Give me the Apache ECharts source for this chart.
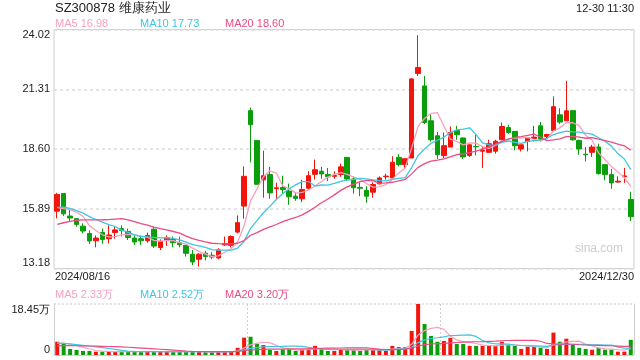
<!DOCTYPE html>
<html><head><meta charset="utf-8">
<script src="https://cdn.jsdelivr.net/npm/echarts@6/dist/echarts.min.js"></script>
<style>html,body{margin:0;padding:0;background:#fff}#c{width:640px;height:360px}</style>
</head><body><div id="c"></div>
<script>
const stockTitle = 'SZ300878 维康药业';
const timeText = '12-30 11:30';
const dates = [
 '2024/08/16','2024/08/19','2024/08/20','2024/08/21','2024/08/22','2024/08/23','2024/08/26','2024/08/27','2024/08/28','2024/08/29','2024/08/30',
 '2024/09/02','2024/09/03','2024/09/04','2024/09/05','2024/09/06','2024/09/09','2024/09/10','2024/09/11','2024/09/12','2024/09/13',
 '2024/09/18','2024/09/19','2024/09/20','2024/09/23','2024/09/24','2024/09/25','2024/09/26','2024/09/27','2024/09/30',
 '2024/10/08','2024/10/09','2024/10/10','2024/10/11','2024/10/14','2024/10/15','2024/10/16','2024/10/17','2024/10/18',
 '2024/10/21','2024/10/22','2024/10/23','2024/10/24','2024/10/25','2024/10/28','2024/10/29','2024/10/30','2024/10/31',
 '2024/11/01','2024/11/04','2024/11/05','2024/11/06','2024/11/07','2024/11/08','2024/11/11','2024/11/12','2024/11/13','2024/11/14','2024/11/15',
 '2024/11/18','2024/11/19','2024/11/20','2024/11/21','2024/11/22','2024/11/25','2024/11/26','2024/11/27','2024/11/28','2024/11/29',
 '2024/12/02','2024/12/03','2024/12/04','2024/12/05','2024/12/06','2024/12/09','2024/12/10','2024/12/11','2024/12/12','2024/12/13',
 '2024/12/16','2024/12/17','2024/12/18','2024/12/19','2024/12/20','2024/12/23','2024/12/24','2024/12/25','2024/12/26','2024/12/27','2024/12/30'];
const opens = [15.78,16.58,15.56,15.44,15.10,14.77,14.44,14.81,14.53,14.81,14.99,14.86,14.56,14.53,14.44,14.96,14.13,14.47,14.50,14.35,
 14.23,13.83,13.60,13.87,13.78,13.66,14.25,14.23,14.83,16.01,20.34,18.99,17.20,17.44,16.80,16.86,16.69,16.46,16.34,16.82,
 17.45,17.59,17.44,17.36,17.44,18.22,17.24,16.86,16.72,16.64,17.02,17.34,17.29,18.22,17.89,18.19,22.03,21.46,19.88,19.20,
 18.30,18.69,19.44,19.10,18.31,18.72,18.50,18.45,18.50,19.02,19.57,19.40,18.60,18.94,19.08,19.65,19.17,19.44,20.15,19.88,
 20.34,18.99,18.36,18.45,18.69,17.89,17.44,17.10,17.34,16.31];
const closes = [16.54,15.66,15.47,15.18,14.88,14.43,14.56,14.50,14.70,14.93,14.90,14.59,14.38,14.44,14.68,14.20,14.41,14.56,14.35,14.26,
 13.87,13.48,13.83,13.72,13.70,14.02,14.31,14.63,15.26,17.36,19.70,17.00,17.39,16.61,16.84,16.76,16.43,16.36,16.76,17.39,
 17.66,17.47,17.34,17.40,17.79,17.24,16.84,16.82,16.46,16.99,17.29,17.37,18.00,17.89,18.16,21.78,22.30,19.80,19.02,18.34,
 18.75,19.35,19.25,18.24,18.79,18.70,18.54,18.84,18.95,19.62,19.35,18.75,18.79,19.12,19.14,19.05,19.26,20.52,19.82,20.33,
 19.02,18.60,18.34,18.69,17.48,17.44,17.06,17.14,17.38,15.53];
const lows = [15.45,15.56,15.33,15.08,14.77,14.29,14.14,14.31,14.31,14.53,14.63,14.47,14.25,14.25,14.35,14.11,14.02,14.20,14.14,14.14,
 13.72,13.33,13.27,13.55,13.60,13.60,14.20,14.13,14.77,15.44,17.99,16.98,16.39,16.34,16.34,16.55,16.07,16.25,16.19,16.76,
 17.21,17.25,17.14,17.25,17.34,17.14,16.58,16.46,16.16,16.39,16.99,17.21,17.29,17.81,17.74,18.19,21.91,19.73,18.94,18.15,
 18.19,18.69,19.02,18.15,18.24,18.31,17.74,18.42,18.39,18.99,19.29,18.54,18.49,18.49,18.94,18.94,19.05,19.44,19.74,19.88,
 18.98,18.34,18.04,18.24,17.44,17.18,16.79,17.06,17.06,15.33];
const highs = [16.61,16.60,15.89,15.46,15.23,14.91,14.68,14.99,15.14,15.08,15.14,14.99,14.68,14.68,14.81,15.08,14.50,14.68,14.63,14.63,
 14.23,14.02,13.87,13.98,13.92,14.10,14.63,14.68,15.59,17.81,20.48,19.00,18.52,17.79,17.07,17.39,17.03,16.64,17.21,17.59,
 18.12,17.79,17.74,17.59,17.94,18.24,17.36,17.09,16.91,17.09,17.36,17.48,18.27,18.37,18.16,21.81,23.76,21.91,20.19,19.37,
 19.35,19.62,19.65,19.12,18.79,19.24,18.69,19.02,19.02,19.80,19.70,19.40,18.79,19.12,19.65,19.83,19.29,20.98,20.45,21.69,
 20.37,19.02,18.69,18.79,18.84,17.89,17.70,17.36,17.74,16.66];
// volumes in 万
const volumes = [4.8,4.0,2.2,1.8,1.45,1.45,1.2,1.2,1.2,1.2,1.2,1.2,1.2,1.2,1.2,1.45,1.2,1.2,1.2,1.1,
 1.2,1.2,1.2,1.0,1.0,1.3,1.3,1.45,2.6,6.3,6.6,4.0,3.6,1.8,1.45,2.0,2.2,1.45,2.0,2.2,
 3.3,2.2,1.45,1.45,2.0,2.0,2.0,1.45,2.0,2.0,1.8,1.45,3.3,2.9,2.9,8.7,18.45,11.2,6.9,4.8,
 5.1,6.2,4.0,4.0,3.3,3.3,3.3,3.3,3.3,4.8,3.6,3.3,2.2,3.0,3.0,2.6,2.2,8.1,4.8,5.9,
 3.7,2.6,2.2,1.9,2.6,1.9,1.9,1.2,1.2,5.5];
// estimated closes / volumes of the 19 sessions before the window (for the moving averages)
const preCloses = [14.2,14.3,14.3,14.4,14.4,14.5,14.4,14.5,14.5,14.6,15.6,16.0,16.2,16.0,16.0,15.9,15.7,15.8,15.8];
const preVolumes = [2.4,2.4,2.4,2.4,2.4,2.4,2.4,2.4,2.4,2.4,4.1,4.1,4.1,4.1,4.1,4.2,4.2,4.2,4.2];
const yTicks = [13.18, 15.89, 18.60, 21.31, 24.02];
const maLegend = ['MA5 16.98', 'MA10 17.73', 'MA20 18.60'];
const volLegend = ['MA5 2.33万', 'MA10 2.52万', 'MA20 3.20万'];
const volMaxLabel = 18.45;

const RED = '#f2150b', GREEN = '#0b9e0b';
const C5 = '#f7a1c0', C10 = '#3ec6e2', C20 = '#ea4c83';
const FONT = 'Liberation Sans, Arial, sans-serif';

function ma(n, arr, pre) {
  const all = pre.concat(arr);
  return arr.map((_, i) => {
    const j = i + pre.length;
    let s = 0;
    for (let k = j - n + 1; k <= j; k++) s += all[k];
    return +(s / n).toFixed(3);
  });
}
const kData = opens.map((o, i) => [o, closes[i], lows[i], highs[i]]);
const volData = volumes.map((v, i) => ({ value: v, itemStyle: { color: closes[i] >= opens[i] ? RED : GREEN } }));

const chart = echarts.init(document.getElementById('c'), null, { renderer: 'canvas' });
const lineS = (name, data, color, xi, yi, w) => ({
  name, type: 'line', data, xAxisIndex: xi, yAxisIndex: yi, symbol: 'none', smooth: false, z: 5,
  lineStyle: { color, width: w }, silent: true, animation: false
});
const txt = (x, y, t, color, size, align, vAlign) => ({
  type: 'text', x, y, silent: true,
  style: { text: t, fill: color, font: size + 'px ' + FONT, textAlign: align || 'left', textVerticalAlign: vAlign || 'middle' }
});
chart.setOption({
  animation: false,
  grid: [
    { left: 54, right: 6, top: 29.5, height: 239, show: true, borderColor: '#cfcfcf', borderWidth: 1 },
    { left: 54, right: 6, top: 304, height: 51, show: false }
  ],
  xAxis: [
    { type: 'category', data: dates, gridIndex: 0, boundaryGap: true, axisLine: { show: false }, axisTick: { show: false }, axisLabel: { show: false }, splitLine: { show: false } },
    { type: 'category', data: dates, gridIndex: 1, boundaryGap: true, axisLine: { show: true, lineStyle: { color: '#cfcfcf' } }, axisTick: { show: false }, axisLabel: { show: false },
      splitLine: { show: true, interval: (idx) => idx === 30 || idx === 60, lineStyle: { color: '#cfcfcf', type: [2, 2] } } }
  ],
  yAxis: [
    { type: 'value', gridIndex: 0, min: yTicks[0], max: yTicks[yTicks.length - 1], interval: +(yTicks[1] - yTicks[0]).toFixed(2), scale: true,
      axisLine: { show: false }, axisTick: { show: false },
      splitLine: { show: true, lineStyle: { color: '#dcdcdc', type: [3, 3], width: 1.5 } },
      axisLabel: { margin: 4, color: '#222', fontSize: 11, fontFamily: FONT, formatter: v => v.toFixed(2), verticalAlignMaxLabel: 'top', verticalAlignMinLabel: 'bottom', showMinLabel: true, showMaxLabel: true } },
    { type: 'value', gridIndex: 1, min: 0, max: volMaxLabel, interval: volMaxLabel,
      axisLine: { show: true, lineStyle: { color: '#cfcfcf' } }, axisTick: { show: false },
      splitLine: { show: true, lineStyle: { color: '#dcdcdc', type: [2, 2], width: 1.5 } },
      axisLabel: { margin: 4, color: '#222', fontSize: 11, fontFamily: FONT, formatter: v => v === 0 ? '0' : v.toFixed(2) + '万', verticalAlignMaxLabel: 'top', verticalAlignMinLabel: 'bottom', showMinLabel: true, showMaxLabel: true } },
    { type: 'value', gridIndex: 1, position: 'right', min: 0, max: volMaxLabel, axisLine: { show: true, lineStyle: { color: '#cfcfcf' } }, axisTick: { show: false }, axisLabel: { show: false }, splitLine: { show: false } }
  ],
  series: [
    { type: 'candlestick', data: kData, xAxisIndex: 0, yAxisIndex: 0, barWidth: 5, z: 3,
      itemStyle: { color: RED, color0: GREEN, borderColor: RED, borderColor0: GREEN, borderWidth: 1 } },
    lineS('MA5', ma(5, closes, preCloses), C5, 0, 0, 1.3),
    lineS('MA10', ma(10, closes, preCloses), C10, 0, 0, 1.3),
    lineS('MA20', ma(20, closes, preCloses), C20, 0, 0, 1.3),
    { type: 'bar', data: volData, xAxisIndex: 1, yAxisIndex: 1, barWidth: 4, z: 3 },
    lineS('VMA5', ma(5, volumes, preVolumes), C5, 1, 1, 1.2),
    lineS('VMA10', ma(10, volumes, preVolumes), C10, 1, 1, 1.2),
    lineS('VMA20', ma(20, volumes, preVolumes), C20, 1, 1, 1.2)
  ],
  graphic: [
    txt(55, 8, stockTitle, '#222', 13),
    txt(634, 9, timeText, '#222', 11, 'right'),
    txt(55, 24, maLegend[0], C5, 11),
    txt(140, 24, maLegend[1], C10, 11),
    txt(225, 24, maLegend[2], C20, 11),
    txt(55, 277, dates[0], '#222', 11),
    txt(634, 277, dates[dates.length - 1], '#222', 11, 'right'),
    txt(623, 249, 'sina.com', '#cccccc', 12, 'right'),
    txt(55, 295, volLegend[0], C5, 11),
    txt(140, 295, volLegend[1], C10, 11),
    txt(225, 295, volLegend[2], C20, 11)
  ]
});
</script></body></html>
